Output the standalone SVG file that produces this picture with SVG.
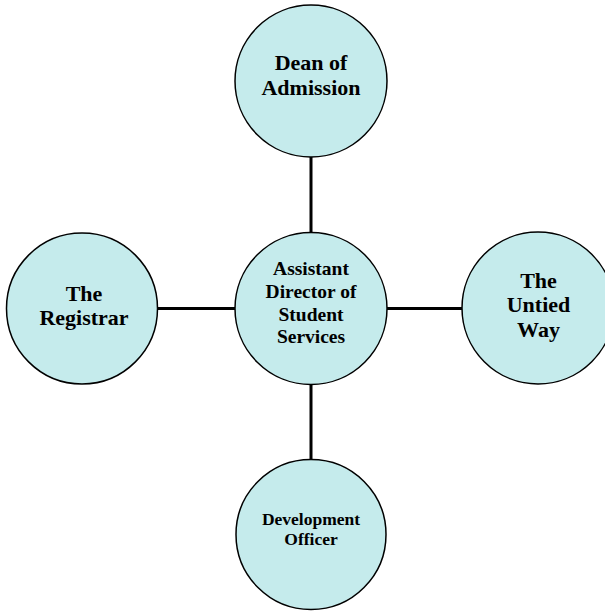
<svg xmlns="http://www.w3.org/2000/svg" width="605" height="611" viewBox="0 0 605 611">
<style>
.node{fill:#C5EBEC;stroke:#000;stroke-width:1.5}
.edge{stroke:#000;stroke-width:3;fill:none}
text{font-family:"Liberation Serif","Times New Roman",serif;font-weight:bold;fill:#000;text-anchor:middle}
.big{font-size:22px}
.mid{font-size:19.5px}
.small{font-size:17.5px}
</style>
<rect width="605" height="611" fill="#fff"/>
<g id="connectors">
<line class="edge" x1="311" y1="157" x2="311" y2="233"/>
<line class="edge" x1="311" y1="384" x2="311" y2="460"/>
<line class="edge" x1="157" y1="308.5" x2="235" y2="308.5"/>
<line class="edge" x1="387" y1="308.5" x2="462" y2="308.5"/>
</g>
<g id="dean">
<circle class="node" cx="311" cy="81" r="76"/>
<text class="big" x="311" y="70">Dean of</text>
<text class="big" x="311" y="95">Admission</text>
</g>
<g id="assistant">
<circle class="node" cx="311" cy="308.5" r="76"/>
<text class="mid" x="311" y="275">Assistant</text>
<text class="mid" x="311" y="297.7">Director of</text>
<text class="mid" x="311" y="320.5">Student</text>
<text class="mid" x="311" y="343.3">Services</text>
</g>
<g id="registrar">
<circle class="node" cx="82" cy="308.5" r="75.5"/>
<text class="big" x="84" y="301">The</text>
<text class="big" x="84" y="325">Registrar</text>
</g>
<g id="united">
<circle class="node" cx="538" cy="308" r="76"/>
<text class="big" x="538.5" y="288">The</text>
<text class="big" x="538.5" y="312.3">Untied</text>
<text class="big" x="538.5" y="336.7">Way</text>
</g>
<g id="development">
<circle class="node" cx="311" cy="534.5" r="75"/>
<text class="small" x="311" y="525">Development</text>
<text class="small" x="311" y="545">Officer</text>
</g>
</svg>
